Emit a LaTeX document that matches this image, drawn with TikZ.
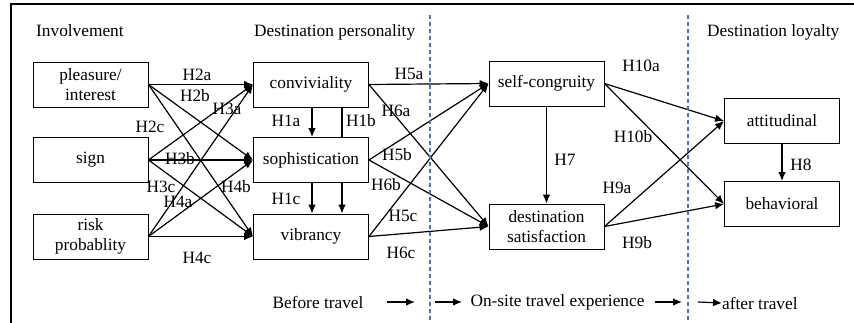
\documentclass[tikz,border=0pt]{standalone}
\usepackage{fontspec}
\setmainfont{Liberation Serif}
\usetikzlibrary{arrows.meta}
\definecolor{phaseblue}{RGB}{68,114,196}
\pgfdeclarelayer{bg}
\pgfsetlayers{bg,main}
\begin{document}
\begin{tikzpicture}[x=1pt,y=-1pt,
  txt/.style={font=\fontsize{17.3}{20}\selectfont},
  box/.style={txt, draw, line width=0.9pt, fill=white, minimum width=115pt,
    minimum height=45pt, inner sep=0pt, align=center},
  lbl/.style={txt, inner sep=0pt},
  link/.style={line width=1.2pt, -{Latex[length=9pt,width=7.5pt]}},
  phase/.style={draw=phaseblue, line width=1.4pt, dash pattern=on 4pt off 3pt},
  frame/.style={line width=2pt}]
\useasboundingbox (0,0) rectangle (854,323);

% outer frame
\coordinate (fbl) at (11,323);
\coordinate (ftl) at (11,4);
\coordinate (ftr) at (854,4);
\draw[frame] (fbl) -- (ftl) -- (ftr);

% phase separators
\coordinate (s1t) at (430,15);
\coordinate (s1b) at (430,323);
\coordinate (s2t) at (688,15);
\coordinate (s2b) at (688,323);
\draw[phase] (s1t) -- (s1b);
\draw[phase] (s2t) -- (s2b);

% group headings
\node[txt, anchor=base west, inner sep=0pt] (hinv) at (36,37) {Involvement};
\node[txt, anchor=base west, inner sep=0pt] (hdp) at (254,37) {Destination personality};
\node[txt, anchor=base west, inner sep=0pt] (hdl) at (707,37) {Destination loyalty};

% constructs
\node[box] (pleas) at (90.5,84.5) {pleasure/\\interest};
\node[box] (sign) at (90.5,160) {sign};
\node[box] (risk) at (90.5,236.5) {risk\\probablity};
\node[box] (conv) at (311,84.5) {conviviality};
\node[box] (soph) at (311,160) {sophistication};
\node[box] (vib) at (311,236.5) {vibrancy};
\node[box] (self) at (546.5,83.5) {self-congruity};
\node[box] (dsat) at (546.5,226.5) {destination\\satisfaction};
\node[box] (att) at (782,121) {attitudinal};
\node[box] (beh) at (782,204) {behavioral};

% hypothesised paths
\begin{pgfonlayer}{bg}
\foreach \s in {pleas,sign,risk}
  \foreach \t in {conv,soph,vib}
    \draw[link] (\s.east) -- (\t.west);
\draw[link] ([xshift=1pt]conv.south) -- ([xshift=1pt]soph.north);
\draw[link] ([xshift=31pt]conv.south) -- ([xshift=31pt]vib.north);
\draw[link] ([xshift=1pt]soph.south) -- ([xshift=1pt]vib.north);
\foreach \s in {conv,soph,vib}
  \foreach \t in {self,dsat}
    \draw[link] (\s.east) -- (\t.west);
\draw[link] (self.south) -- (dsat.north);
\foreach \s in {self,dsat}
  \foreach \t in {att,beh}
    \draw[link] (\s.east) -- (\t.west);
\draw[link] (att.south) -- (beh.north);
\end{pgfonlayer}

% path labels
\node[lbl] (l2a) at (197,75) {H2a};
\node[lbl] (l2b) at (195,96) {H2b};
\node[lbl] (l2c) at (150,127) {H2c};
\node[lbl] (l3a) at (227,109) {H3a};
\node[lbl] (l3b) at (180,159) {H3b};
\node[lbl] (l3c) at (161,187) {H3c};
\node[lbl] (l4a) at (178,202) {H4a};
\node[lbl] (l4b) at (236,187) {H4b};
\node[lbl] (l4c) at (197,258) {H4c};
\node[lbl] (l1a) at (286,121) {H1a};
\node[lbl] (l1b) at (361,121) {H1b};
\node[lbl] (l1c) at (286,199) {H1c};
\node[lbl] (l5a) at (409,74) {H5a};
\node[lbl] (l6a) at (396,111) {H6a};
\node[lbl] (l5b) at (397,155) {H5b};
\node[lbl] (l6b) at (386,185) {H6b};
\node[lbl] (l5c) at (403,216) {H5c};
\node[lbl] (l6c) at (401,253) {H6c};
\node[lbl] (l10a) at (641,66) {H10a};
\node[lbl] (l10b) at (633,137) {H10b};
\node[lbl] (l7) at (565,160) {H7};
\node[lbl] (l8) at (801,165) {H8};
\node[lbl] (l9a) at (617,188) {H9a};
\node[lbl] (l9b) at (637,243) {H9b};

% travel phases
\node[lbl] (pbefore) at (318,302) {Before travel};
\node[lbl] (ponsite) at (557.5,302) {On-site travel experience};
\node[lbl, anchor=west] (pafter) at (722,303) {after travel};
\coordinate (a1s) at (387,302); \coordinate (a1e) at (415,302);
\coordinate (a2s) at (435,302); \coordinate (a2e) at (462,302);
\coordinate (a3s) at (655,302); \coordinate (a3e) at (682,302);
\coordinate (a4s) at (698,302);
\draw[link] (a1s) -- (a1e);
\draw[link] (a2s) -- (a2e);
\draw[link] (a3s) -- (a3e);
\draw[link] (a4s) -- (pafter.west);
\end{tikzpicture}
\end{document}
